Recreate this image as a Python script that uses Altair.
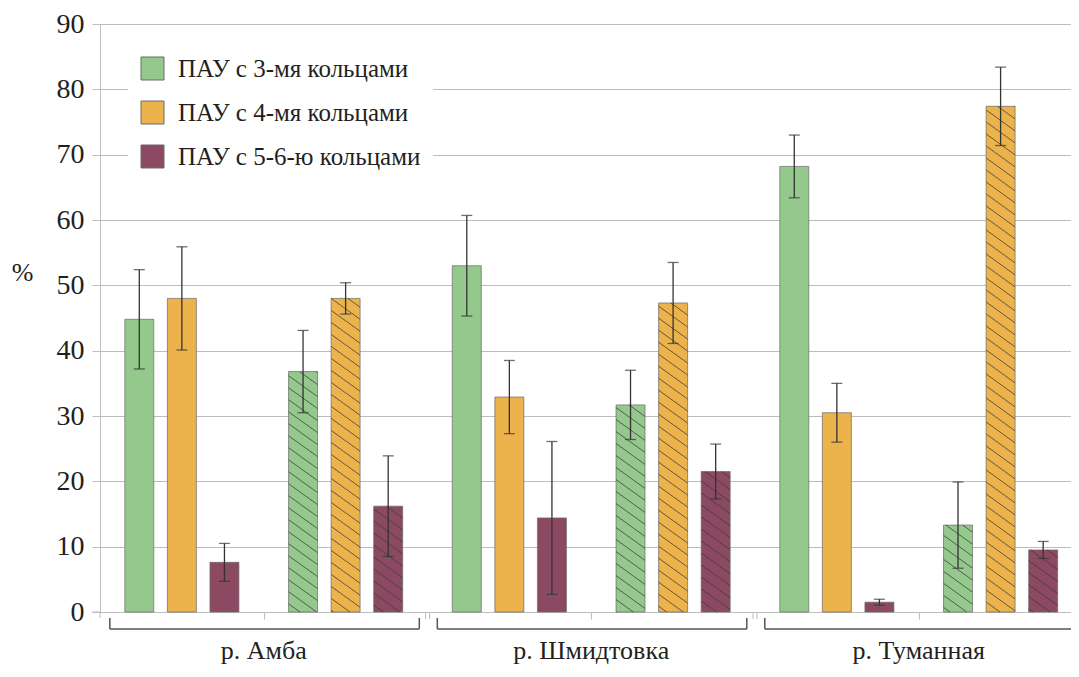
import numpy as np
import pandas as pd
import altair as alt

# ---------------- data ----------------
rivers = ["р. Амба", "р. Шмидтовка", "р. Туманная"]
series = ["ПАУ с 3-мя кольцами", "ПАУ с 4-мя кольцами", "ПАУ с 5-6-ю кольцами"]
colors = ["#94c88c", "#ecb24c", "#8c4a62"]

# solid bars (per river: 3-ring, 4-ring, 5-6-ring)
solid_values = [[44.8, 48.0, 7.6], [53.0, 32.9, 14.4], [68.2, 30.5, 1.5]]
solid_errors = [[7.6, 7.9, 2.9], [7.7, 5.6, 11.7], [4.8, 4.5, 0.45]]
# hatched bars
hatched_values = [[36.8, 48.0, 16.2], [31.7, 47.3, 21.5], [13.3, 77.4, 9.5]]
hatched_errors = [[6.3, 2.4, 7.7], [5.3, 6.2, 4.2], [6.6, 6.0, 1.3]]

y_ticks = [0, 10, 20, 30, 40, 50, 60, 70, 80, 90]

# ---------------- layout ----------------
W, H = 971, 588
X_MAX = 5.93
Y_MAX = 90
BAR_STEP = 0.26
BAR_W = 0.177
KX = W / X_MAX
KY = H / Y_MAX
FONT = "Liberation Serif, Times New Roman, DejaVu Serif, serif"
TXT = "#231f20"
GRID = "#bdbdbd"

rows = []
for r, river in enumerate(rivers):
    for g, (vals, errs) in enumerate([(solid_values, solid_errors), (hatched_values, hatched_errors)]):
        for j, s in enumerate(series):
            cat = 2 * r + g
            c = cat + 0.5 + (j - 1) * BAR_STEP
            v = vals[r][j]
            e = errs[r][j]
            rows.append(dict(river=river, series=s, hatched=g, center=c,
                             x0=c - BAR_W / 2, x1=c + BAR_W / 2,
                             value=v, zero=0.0, lo=v - e, hi=v + e))
bars = pd.DataFrame(rows)

# hatch segments for hatched bars (pixel slope, vertical spacing in px)
slope, spacing = 0.72, 12.0
hrows = []
for _, b in bars[bars.hatched == 1].iterrows():
    X0, X1 = b.x0 * KX, b.x1 * KX
    top = b.value * KY
    kmin = int(np.floor(slope * X0 / spacing))
    kmax = int(np.ceil((top + slope * X1) / spacing))
    for k in range(kmin, kmax + 1):
        bb = k * spacing
        xa = max(X0, (bb - top) / slope)
        xb = min(X1, bb / slope)
        if xb - xa > 0.5:
            hrows.append(dict(x0=xa / KX, x1=xb / KX,
                              value=(bb - slope * xa) / KY, zero=(bb - slope * xb) / KY))
hatch = pd.DataFrame(hrows)

river_df = pd.DataFrame(dict(river=rivers,
                             x0=[2 * r + 1 for r in range(len(rivers))],
                             left=[2 * r + 0.06 for r in range(len(rivers))],
                             right=[2 * r + 1.95 for r in range(len(rivers))]))
breaks = pd.DataFrame(dict(x0=[2 * r for r in range(1, len(rivers))]))

xs = alt.Scale(domain=[0, X_MAX], nice=False, zero=False)
ys = alt.Scale(domain=[0, Y_MAX], nice=False)
X_AXIS = alt.Axis(values=[1, 3, 5], labels=False, ticks=True, tickSize=7,
                  tickColor=GRID, domainColor=GRID, grid=False, title=None)
Y_AXIS = alt.Axis(values=y_ticks, grid=True, gridColor=GRID, tickColor=GRID,
                  tickSize=8, domainColor=GRID, labelFont=FONT, labelFontSize=28,
                  labelColor=TXT, labelPadding=8, title="%", titleAngle=0,
                  titleFont=FONT, titleFontSize=26, titleFontWeight="normal",
                  titleColor=TXT, titleX=-78, titleY=248, titleAlign="center",
                  titleBaseline="middle")


def X(field):
    return alt.X(field, type="quantitative", scale=xs, axis=X_AXIS)


def Y(field):
    return alt.Y(field, type="quantitative", scale=ys, axis=Y_AXIS)


base_bars = alt.Chart(bars)
bar_layer = base_bars.mark_bar(stroke="#6a6a6a", strokeWidth=1, strokeOpacity=0.7).encode(
    x=X("x0"), x2="x1",
    y=Y("value"), y2="zero",
    color=alt.Color("series:N", scale=alt.Scale(domain=series, range=colors),
                    legend=alt.Legend(title=None, orient="none", legendX=28, legendY=20,
                                      padding=12, fillColor="white", symbolType="square",
                                      symbolSize=529, symbolStrokeColor="#6a6a6a",
                                      symbolStrokeWidth=1, symbolOpacity=1,
                                      labelFont=FONT, labelFontSize=25, labelColor=TXT,
                                      labelLimit=400, labelOffset=13, rowPadding=17)),
)

hatch_layer = alt.Chart(hatch).mark_rule(color="#3a3a3a", strokeWidth=1, opacity=0.75).encode(
    x=X("x0"), x2="x1", y=Y("value"), y2="zero",
)

err_layer = base_bars.mark_rule(color="#333333", strokeWidth=1.3).encode(
    x=X("center"), y=Y("lo"), y2="hi",
)
cap_lo = base_bars.mark_tick(orient="horizontal", size=11, thickness=1.3, color="#333333").encode(
    x=X("center"), y=Y("lo"))
cap_hi = base_bars.mark_tick(orient="horizontal", size=11, thickness=1.3, color="#333333").encode(
    x=X("center"), y=Y("hi"))

# axis decorations
ext_x = alt.Chart(river_df.head(1)).mark_rule(color=GRID, strokeWidth=1).encode(
    x=alt.value(-8), x2=alt.value(0), y=alt.value(H))
ext_y = alt.Chart(river_df.head(1)).mark_rule(color=GRID, strokeWidth=1).encode(
    x=alt.value(0), y=alt.value(H), y2=alt.value(H + 6))
brk_l = alt.Chart(breaks).mark_rule(color=GRID, strokeWidth=1, xOffset=-2).encode(
    x=X("x0"), y=alt.value(H + 1), y2=alt.value(H + 7))
brk_r = alt.Chart(breaks).mark_rule(color=GRID, strokeWidth=1, xOffset=2).encode(
    x=X("x0"), y=alt.value(H + 1), y2=alt.value(H + 7))

BR = "#555555"
br_h = alt.Chart(river_df).mark_rule(color=BR, strokeWidth=1.5).encode(
    x=X("left"), x2="right", y=alt.value(H + 17))
br_l = alt.Chart(river_df).mark_rule(color=BR, strokeWidth=1.5).encode(
    x=X("left"), y=alt.value(H + 6), y2=alt.value(H + 17))
br_r = alt.Chart(river_df).mark_rule(color=BR, strokeWidth=1.5).encode(
    x=X("right"), y=alt.value(H + 6), y2=alt.value(H + 17))
labels = alt.Chart(river_df).mark_text(font=FONT, fontSize=26, color=TXT,
                                       baseline="alphabetic", align="center").encode(
    x=X("x0"), y=alt.value(H + 47), text="river:N")

chart = alt.layer(
    bar_layer, hatch_layer, err_layer, cap_lo, cap_hi,
    ext_x, ext_y, brk_l, brk_r, br_h, br_l, br_r, labels,
).properties(
    width=W, height=H, autosize="none",
    padding={"left": 92, "top": 16, "right": 0, "bottom": 53},
).configure_view(stroke=None).configure(background="white")

chart.save("out.html", embed_options={"renderer": "svg", "actions": False})
